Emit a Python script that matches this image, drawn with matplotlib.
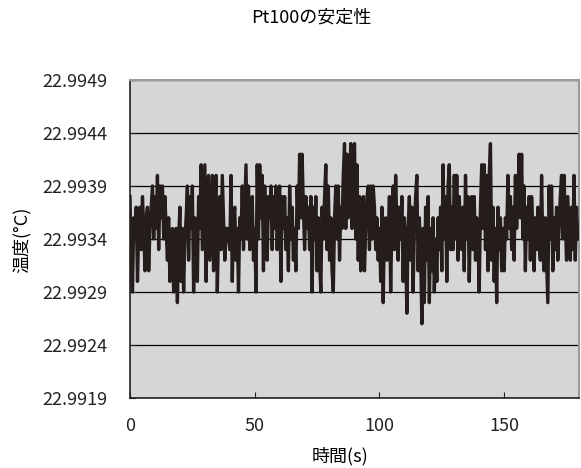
import numpy as np
import matplotlib
matplotlib.use("Agg")
import matplotlib.pyplot as plt

plt.rcParams['font.family'] = ['Noto Sans CJK JP', 'DejaVu Sans']

# temperature readings as steps of 0.0001 above 22.9926, one every 0.5 s
base = 22.9926
step = 0.0001
dt = 0.5
w1 = [12, 5, 3, 10, 8, 11, 4, 9, 11, 7, 12, 9, 5, 10, 11, 5, 9, 11, 13, 8,
      12, 9, 14, 7, 13, 10, 13, 8, 12, 9, 6, 10, 4, 8, 9, 3, 7, 9, 2, 8,
      11, 4, 9, 3, 8, 10, 13, 6, 12, 9, 13, 3, 10, 8, 4, 12, 9, 15, 7, 11]
w2 = [15, 4, 12, 14, 6, 10, 14, 5, 11, 14, 3, 9, 12, 7, 14, 10, 6, 9, 9, 8,
      7, 14, 4, 10, 11, 6, 9, 3, 10, 8, 13, 7, 11, 15, 8, 13, 7, 10, 12, 6,
      9, 3, 15, 8, 15, 10, 14, 5, 13, 9, 6, 12, 10, 13, 7, 12, 9, 13, 7, 11]
w3 = [13, 4, 12, 9, 12, 7, 10, 5, 13, 8, 11, 6, 9, 5, 13, 9, 16, 10, 16, 11,
      7, 12, 9, 11, 7, 12, 3, 11, 8, 12, 5, 10, 6, 3, 11, 8, 12, 15, 7, 13,
      6, 10, 5, 3, 10, 13, 8, 13, 6, 11, 9, 14, 17, 9, 16, 10, 13, 17, 9, 14]
w4 = [17, 8, 15, 6, 12, 5, 10, 12, 5, 9, 12, 13, 7, 13, 8, 13, 11, 7, 10, 6,
      9, 4, 11, 2, 9, 10, 6, 8, 12, 3, 10, 13, 7, 14, 9, 6, 11, 8, 12, 4,
      10, 7, 1, 9, 12, 6, 11, 3, 9, 12, 14, 5, 10, 7, 0, 9, 2, 11, 6, 12]
w5 = [2, 9, 5, 10, 3, 8, 4, 10, 7, 11, 5, 15, 8, 12, 4, 13, 15, 7, 11, 7,
      14, 8, 14, 6, 12, 9, 7, 11, 5, 14, 8, 12, 4, 10, 12, 7, 12, 6, 10, 8,
      3, 11, 15, 9, 15, 7, 14, 5, 14, 17, 6, 11, 4, 9, 2, 11, 7, 10, 5, 9]
w6 = [5, 10, 8, 14, 9, 12, 7, 11, 6, 14, 9, 12, 16, 10, 16, 8, 13, 5, 11, 8,
      12, 6, 12, 9, 5, 10, 7, 11, 8, 6, 14, 7, 5, 10, 6, 2, 13, 8, 13, 5,
      10, 7, 11, 6, 9, 12, 14, 8, 14, 10, 6, 12, 9, 6, 11, 7, 14, 6, 11, 8]
levels = w1 + w2 + w3 + w4 + w5 + w6

yticks = [22.9919, 22.9924, 22.9929, 22.9934, 22.9939, 22.9944, 22.9949]
xticks = [0, 50, 100, 150]

temp = base + step * np.array(levels)
t = np.arange(len(levels)) * dt

fig = plt.figure(figsize=(5.81, 4.68), dpi=100)
ax = fig.add_axes([130/581, 1-398/468, 449/581, 318/468])
ax.set_facecolor('#d6d6d6')
ax.plot(t, temp, color='#251c1c', lw=2.4, zorder=3)

ax.set_xlim(0, 180)
ax.set_ylim(yticks[0], yticks[-1])
ax.set_yticks(yticks)
ax.set_yticklabels(['%.4f' % v for v in yticks])
ax.set_xticks(xticks)
ax.yaxis.grid(True, color='black', lw=0.9)
ax.set_axisbelow(True)
ax.tick_params(direction='in', labelsize=13, length=4, pad=16, colors='#222222')
ax.tick_params(axis='x', pad=14)
for s in ['left', 'bottom']:
    ax.spines[s].set_color('#222222')
    ax.spines[s].set_linewidth(1.2)
for s in ['top', 'right']:
    ax.spines[s].set_color('#9a9a9a')
    ax.spines[s].set_linewidth(1.5)

fig.text(311/581, 1-18/468, 'Pt100の安定性', ha='center', va='center', fontsize=13)
fig.text(22/581, 1-240/468, '温度(°C)', ha='center', va='center', rotation=90, fontsize=13)
fig.text(340/581, 1-456/468, '時間(s)', ha='center', va='center', fontsize=13)

fig.savefig('out.png', dpi=100)
